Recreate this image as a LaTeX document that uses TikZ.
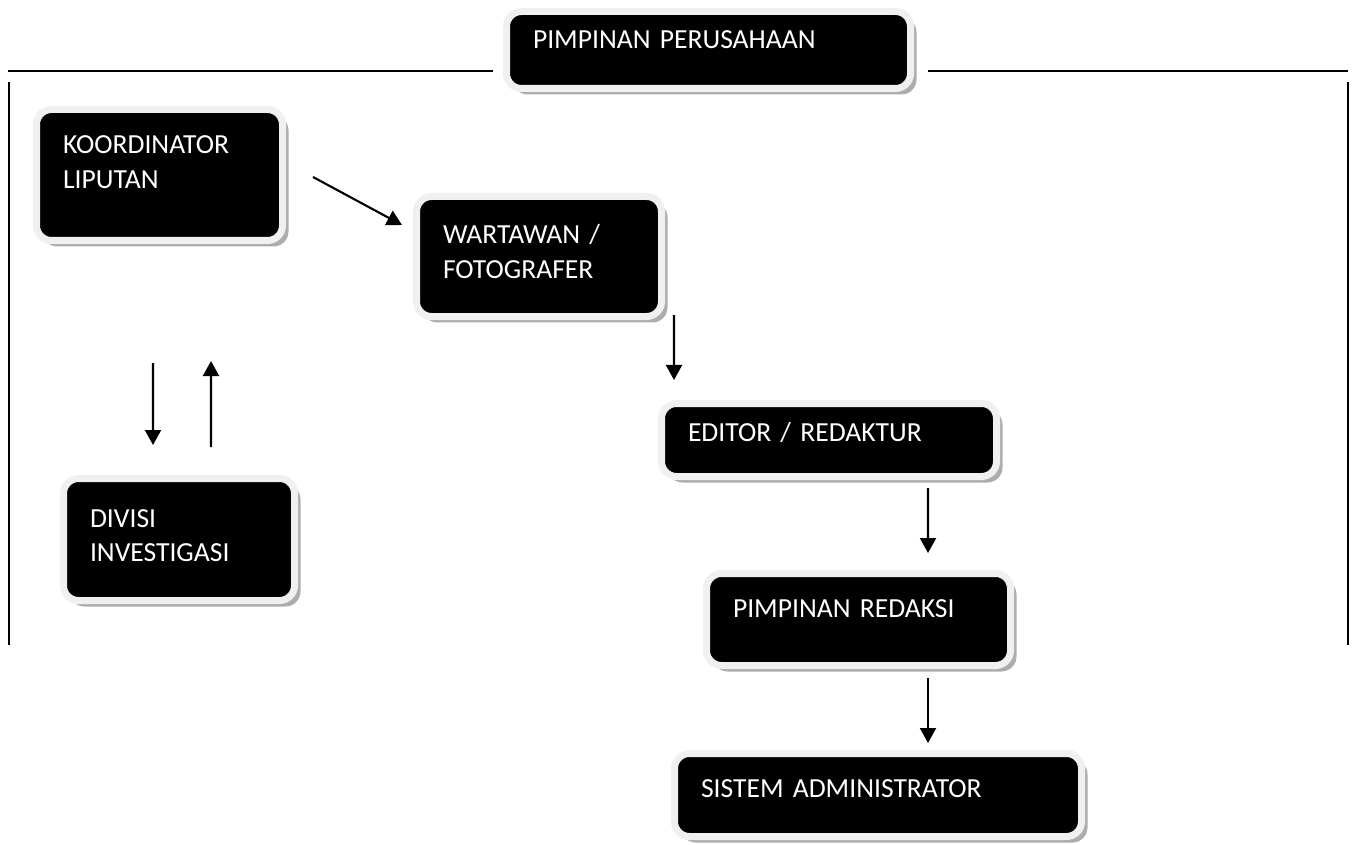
\documentclass[tikz,border=0pt]{standalone}
\usepackage{fontspec}
\setmainfont{Carlito}
\usetikzlibrary{arrows.meta,shadows}
\definecolor{boxrim}{HTML}{F0F0F0}
\definecolor{boxshade}{HTML}{ADADAD}
\tikzset{
  >={Triangle[length=3mm,width=3.2mm]},
  arr/.style={->, draw=black, line width=1.2pt},
  orgline/.style={draw=black, line width=0.8pt},
  divbox/.style={rectangle, rounded corners=0.3cm, fill=black, draw=boxrim,
                 line width=0.14cm, text=white, anchor=north west, align=left,
                 font=\fontsize{15.7}{19.9}\selectfont,
                 inner xsep=0.53cm, inner ysep=0.07cm, outer sep=0pt,
                 drop shadow={shadow xshift=0.12cm, shadow yshift=-0.12cm,
                              fill=boxshade, opacity=1}}
}

\begin{document}
\begin{tikzpicture}
\useasboundingbox (0,0) rectangle (27.06,16.88);

% ------------------------------------------------------------
% TOP: head of the company and the frame
% ------------------------------------------------------------
\node[divbox, text width=7.02cm, text height=0.68cm, text depth=0.72cm] (top) at (10.13,16.65)
{PIMPINAN PERUSAHAAN};

\coordinate (frameL) at (0.16,15.46);
\coordinate (frameR) at (26.96,15.46);
\draw[orgline] (frameL) -- ([xshift=-0.27cm]top.west |- frameL);
\draw[orgline] ([xshift=0.35cm]top.east |- frameR) -- (frameR);
\draw[orgline, line width=1pt] (0.18,15.24) -- (0.18,3.98);
\draw[orgline, line width=1pt] (26.96,15.24) -- (26.96,3.98);

% ------------------------------------------------------------
% LEFT: coverage and investigation
% ------------------------------------------------------------
\node[divbox, text width=3.86cm, text height=0.82cm, text depth=1.66cm] (koord) at (0.73,14.69)
{KOORDINATOR\\LIPUTAN};
\node[divbox, text width=3.56cm, text height=0.9cm, text depth=1.4cm] (divisi) at (1.27,7.31)
{DIVISI\\INVESTIGASI};

\draw[arr] ([xshift=-0.13cm,yshift=-2.45cm]koord.south) -- ([xshift=-0.52cm,yshift=0.67cm]divisi.north);
\draw[arr] ([xshift=0.64cm,yshift=0.63cm]divisi.north) -- ([xshift=1.03cm,yshift=-2.41cm]koord.south);

% ------------------------------------------------------------
% RIGHT: editorial chain
% ------------------------------------------------------------
\node[divbox, text width=3.84cm, text height=0.88cm, text depth=1.38cm] (wart) at (8.33,12.95)
{WARTAWAN /\\FOTOGRAFER};
\node[divbox, text width=5.64cm, text height=0.68cm, text depth=0.64cm] (editor) at (13.23,8.81)
{EDITOR / REDAKTUR};
\node[divbox, text width=5.02cm, text height=0.8cm, text depth=0.9cm] (redaksi) at (14.13,5.41)
{PIMPINAN REDAKSI};
\node[divbox, text width=7.08cm, text height=0.8cm, text depth=0.72cm] (sistem) at (13.49,1.81)
{SISTEM ADMINISTRATOR};

\draw[arr] ([xshift=0.61cm,yshift=-0.04cm]koord.east) -- ([xshift=-0.29cm,yshift=-0.57cm]wart.north west);
\draw[arr] ([xshift=0.25cm,yshift=0.03cm]wart.south east) -- ([xshift=0.25cm,yshift=0.47cm]editor.north west);
\draw[arr] ([xshift=1.98cm,yshift=-0.23cm]editor.south) -- ([xshift=1.39cm,yshift=0.41cm]redaksi.north);
\draw[arr] ([xshift=1.39cm,yshift=-0.25cm]redaksi.south) -- ([xshift=1cm,yshift=0.21cm]sistem.north);

\end{tikzpicture}
\end{document}
